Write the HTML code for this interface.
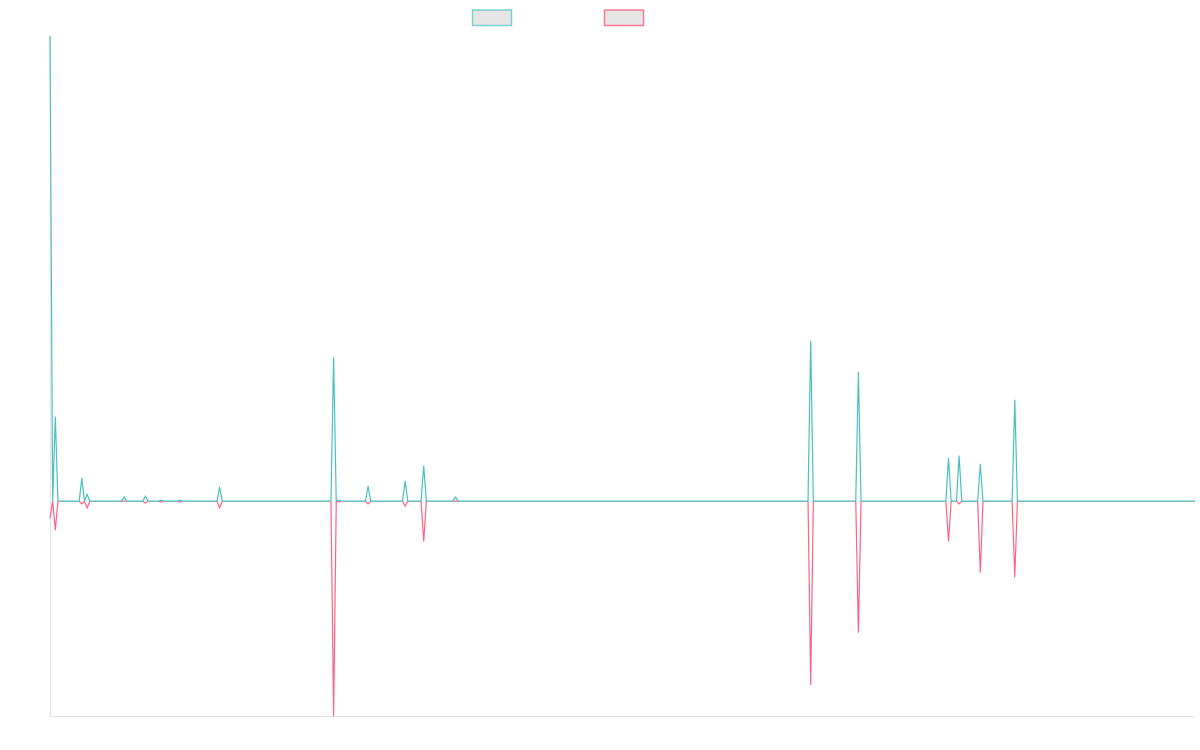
<!DOCTYPE html>
<html><head><meta charset="utf-8">
<style>
html,body{margin:0;padding:0;background:#fff;}
svg{display:block;font-family:"Liberation Sans",sans-serif;}
</style></head>
<body>
<svg id="chart" width="1200" height="750" viewBox="0 0 1200 750" xmlns="http://www.w3.org/2000/svg">
  <g>
    <rect x="472.5" y="10" width="39" height="15.5" fill="#e6e6e6" stroke="#4bc0c0" stroke-opacity="0.7" stroke-width="1.5"/>
    <rect x="604.5" y="10" width="39" height="15.5" fill="#e6e6e6" stroke="#ff6384" stroke-opacity="0.85" stroke-width="1.5"/>
  </g>
  <line x1="50.5" y1="36" x2="50.5" y2="716" stroke="#e5e5e5" stroke-width="1"/>
  <line x1="50" y1="716.5" x2="1195" y2="716.5" stroke="#e5e5e5" stroke-width="1"/>
  <g id="series"></g>
</svg>
<script>
const pointCount = 433;
const spikeIndices = [0, 2, 12, 14, 28, 36, 42, 49, 64, 107, 109, 120, 134, 141, 153, 287, 305, 339, 343, 351, 364];
const tealValues = [100, 18.1, 4.9, 1.5, 0.9, 1.1, 0.2, 0.2, 3.0, 30.8, 0.2, 3.2, 4.3, 7.5, 0.9, 34.4, 27.7, 9.2, 9.7, 7.9, 21.7];
const pinkValues = [-3.7, -6.2, -0.6, -1.5, 0, -0.4, -0.2, -0.2, -1.5, -46.2, -0.2, -0.6, -1.1, -8.6, 0, -39.4, -28.2, -8.6, -0.6, -15.3, -16.3];
const yMin = -46.2, yMax = 100;

const plotLeft = 50, plotRight = 1195, plotTop = 36, plotBottom = 716;
function xScale(i){ return plotLeft + i * (plotRight - plotLeft) / (pointCount - 1); }
function yScale(v){ return plotBottom - (v - yMin) * (plotBottom - plotTop) / (yMax - yMin); }

function buildSeries(vals){
  const arr = new Array(pointCount).fill(0);
  spikeIndices.forEach((idx, k) => { arr[idx] = vals[k]; });
  return arr;
}
const g = document.getElementById('series');
function draw(vals, color, name){
  const data = buildSeries(vals);
  const d = data.map((v, i) => (i ? 'L' : 'M') + xScale(i).toFixed(2) + ',' + yScale(v).toFixed(2)).join(' ');
  const p = document.createElementNS('http://www.w3.org/2000/svg', 'path');
  p.setAttribute('d', d);
  p.setAttribute('fill', 'none');
  p.setAttribute('stroke', color);
  p.setAttribute('stroke-width', '1.2');
  p.setAttribute('stroke-linejoin', 'round');
  
  
  g.appendChild(p);
}
draw(pinkValues, '#ff6384', 'pink-series-line');
draw(tealValues, '#4bc0c0', 'teal-series-line');
</script>
</body></html>
